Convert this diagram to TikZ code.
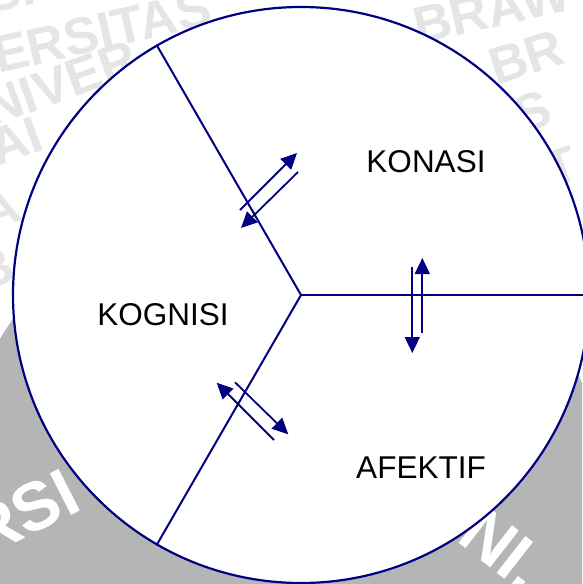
\documentclass[tikz,border=0pt]{standalone}
\usepackage{fontspec}
\setmainfont{Liberation Sans}
\usetikzlibrary{arrows.meta}
\definecolor{navyline}{RGB}{0,0,128}
\definecolor{wmlight}{RGB}{229,229,229}
\definecolor{wmdark}{RGB}{181,181,181}
\begin{document}
\begin{tikzpicture}[x=1pt,y=-1pt,
  ring/.style={circle, draw=navyline, fill=white, line width=2.2pt, minimum size=576pt, inner sep=0pt},
  spoke/.style={draw=navyline, line width=2pt},
  dirarrow/.style={draw=navyline, line width=1.8pt, -{Triangle[length=16pt,width=15pt]}},
  label/.style={font=\fontsize{31.5}{36}\selectfont, text=black, inner sep=0pt, anchor=base},
  wmtext/.style={font=\fontsize{52}{56}\bfseries\selectfont, text=wmlight, inner sep=0pt, anchor=base west},
  wmwhite/.style={font=\fontsize{68}{72}\bfseries\selectfont, text=white, inner sep=0pt, anchor=base west}]
\useasboundingbox (0,0) rectangle (582,584);
\fill[white] (0,0) rectangle (582,584);
% watermark
\begin{scope}
\clip (0,0) rectangle (582,584);
\node[wmtext, rotate=13] (wm0) at (-10,14) {SI};
\node[wmtext, rotate=13] (wm1) at (-2,74) {ERSITAS};
\node[wmtext, rotate=20] (wm2) at (-8,127) {NIVER};
\node[wmtext, rotate=20] (wm3) at (-3,167) {AI};
\node[wmtext, rotate=20] (wm4) at (-12,233) {A};
\node[wmtext, rotate=20] (wm5) at (-18,293) {B};
\node[wmtext, rotate=13] (wm6) at (418,45) {BRAW};
\node[wmtext, rotate=18] (wm7) at (496,86) {BR};
\node[wmtext, rotate=20] (wm8) at (522,135) {S};
\node[wmtext, rotate=20] (wm9) at (552,190) {T};
\fill[wmdark] (280,505) circle (325.5pt);
\node[wmwhite, rotate=27] (wm10) at (-17,560) {RSI};
\node[wmwhite, rotate=-38] (wm11) at (455,540) {NI.};
\end{scope}
% circle and spokes
\node[ring] (C) at (301,295) {};
\coordinate (O) at (301,295);
\draw[spoke] (O) -- (C.120);
\draw[spoke] (O) -- (C.0);
\draw[spoke] (O) -- (C.240);
% arrows
\coordinate (a1s) at (240,210);
\coordinate (a1e) at (297,153);
\coordinate (a2s) at (298,172);
\coordinate (a2e) at (241,228);
\coordinate (b1s) at (422.3,333);
\coordinate (b1e) at (422.3,258);
\coordinate (b2s) at (412.3,267);
\coordinate (b2e) at (412.3,353);
\coordinate (c1s) at (274,440);
\coordinate (c1e) at (216.7,382.7);
\coordinate (c2s) at (235,382.3);
\coordinate (c2e) at (288.3,434.3);
\draw[dirarrow] (a1s) -- (a1e);
\draw[dirarrow] (a2s) -- (a2e);
\draw[dirarrow] (b1s) -- (b1e);
\draw[dirarrow] (b2s) -- (b2e);
\draw[dirarrow] (c1s) -- (c1e);
\draw[dirarrow] (c2s) -- (c2e);
% labels
\node[label] (konasi) at (426,172) {KONASI};
\node[label] (kognisi) at (163,325) {KOGNISI};
\node[label] (afektif) at (421,478) {AFEKTIF};
\end{tikzpicture}
\end{document}
